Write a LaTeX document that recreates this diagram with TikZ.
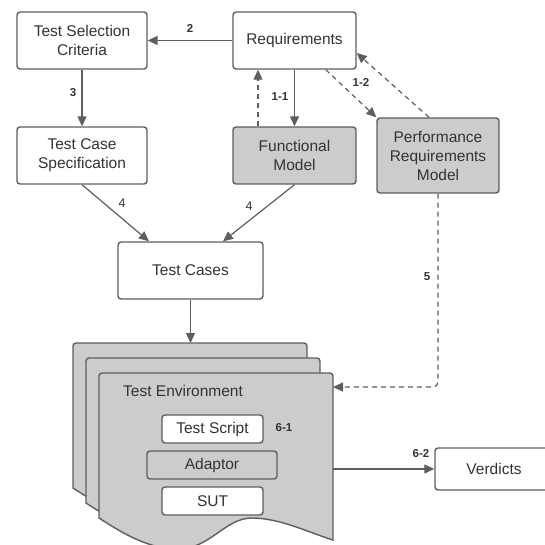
\documentclass[tikz,border=0pt]{standalone}
\usepackage{fontspec}
\setmainfont{Liberation Sans}
\usetikzlibrary{arrows.meta,calc}
\definecolor{ln}{HTML}{5E5E5E}
\definecolor{gf}{HTML}{CCCCCC}
\definecolor{tx}{HTML}{333333}
\newcommand\docpage[2]{%
  \draw[page,shift={(#1,#2)}] (99,518) [rounded corners=3pt] -- (99,373) -- (333,373) [sharp corners] -- (333,540)
    .. controls (310,533) and (280,518) .. (252,518)
    .. controls (225,518) and (210,549) .. (178,549)
    .. controls (150,549) and (125,535) .. (99,518) -- cycle;}
\begin{document}
\begin{tikzpicture}[x=1pt,y=-1pt,
  box/.style={draw=ln,line width=1.4pt,rounded corners=3pt,fill=white,text=tx,align=center,
    font=\fontsize{15.5}{19}\selectfont,inner sep=0pt},
  gbox/.style={box,fill=gf},
  arr/.style={draw=ln,line width=1.2pt,-{Triangle[length=10pt,width=9pt]}},
  darr/.style={arr,dash pattern=on 5pt off 4pt},
  lbl/.style={text=tx,font=\fontsize{11.5}{13}\selectfont\bfseries,inner sep=0pt},
  rlbl/.style={text=tx,font=\fontsize{12.5}{14}\selectfont,inner sep=0pt},
  page/.style={draw=ln,line width=1.4pt,fill=gf}
]
\useasboundingbox (0,0) rectangle (545,545);

% top boxes
\node[box,minimum width=130pt,minimum height=57pt] (tsc) at (82,40.5) {Test Selection\\Criteria};
\node[box,minimum width=123pt,minimum height=57pt] (req) at (294.5,40.5) {Requirements};
\node[box,minimum width=130pt,minimum height=57pt] (tcs) at (82,155.5) {Test Case\\Specification};
\node[gbox,minimum width=123pt,minimum height=57pt] (fm) at (294.5,155.5) {Functional\\Model};
\node[gbox,minimum width=122pt,minimum height=75pt] (prm) at (438,155.5) {Performance\\Requirements\\Model};
\node[box,minimum width=145pt,minimum height=57pt] (tc) at (190.5,270.5) {Test Cases};
\node[box,minimum width=118pt,minimum height=42pt] (verd) at (494,469) {Verdicts};

% test environment stack
\docpage{-26}{-30}
\docpage{-13}{-15}
\docpage{0}{0}
\coordinate (envtop) at (190.5,343);
\coordinate (envright) at (333,387);
\coordinate (envout) at (333,469);
\node[anchor=west,text=tx,font=\fontsize{15.5}{19}\selectfont,inner sep=0pt] (envlbl) at (123,391) {Test Environment};
\node[box,minimum width=101pt,minimum height=28pt] (ts) at (212.5,429) {Test Script};
\node[gbox,minimum width=130pt,minimum height=28pt] (ad) at (212,465) {Adaptor};
\node[box,minimum width=101pt,minimum height=28pt] (sut) at (212.5,501) {SUT};

% connectors
\draw[arr] (req.west) -- (tsc.east);
\draw[arr] (tsc.south) -- (tcs.north);
\draw[arr] (req.south) -- (fm.north);
\draw[darr] ($(fm.north)+(-36.5,0)$) -- ($(req.south)+(-36.5,0)$);
\draw[darr] ($(req.south east)+(-31,0)$) -- (prm.north west);
\draw[darr] ($(prm.north)+(-9,0)$) -- ($(req.east)+(0,12.5)$);
\draw[arr] (tcs.south) -- ($(tc.north)+(-41.5,0)$);
\draw[arr] (fm.south) -- ($(tc.north)+(32.5,0)$);
\draw[arr] (tc.south) -- (envtop);
\draw[darr,rounded corners=5pt] (prm.south) |- (envright);
\draw[arr] (envout) -- (verd.west);

% labels
\node[lbl] (l2) at (190,28) {2};
\node[lbl] (l3) at (73,93) {3};
\node[lbl] (l11) at (280,97) {1-1};
\node[lbl] (l12) at (361,82) {1-2};
\node[rlbl] (l4a) at (122,203) {4};
\node[rlbl] (l4b) at (249,206) {4};
\node[lbl] (l5) at (427,277) {5};
\node[lbl] (l61) at (284,428) {6-1};
\node[lbl] (l62) at (421,454) {6-2};
\end{tikzpicture}
\end{document}
